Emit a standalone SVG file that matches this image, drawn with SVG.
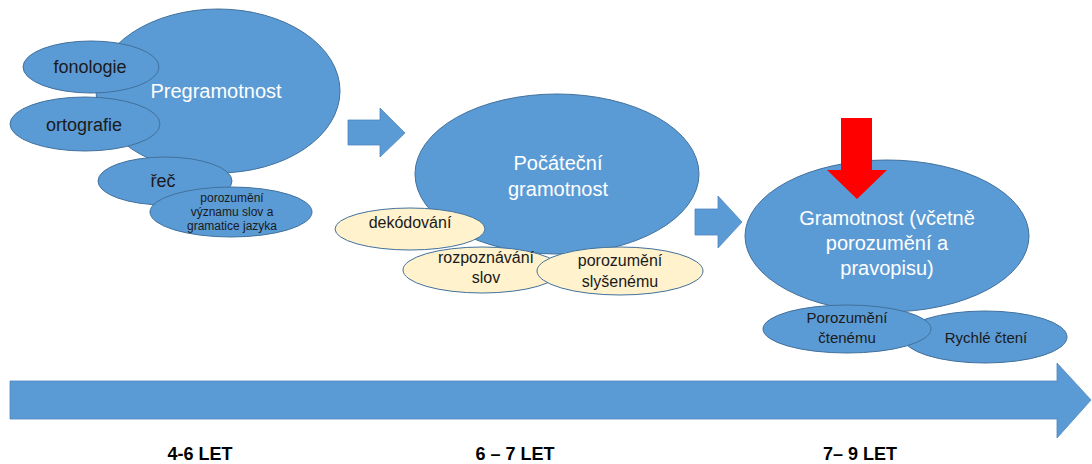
<svg xmlns="http://www.w3.org/2000/svg" width="1092" height="464" viewBox="0 0 1092 464">
<style>
.b{fill:#5b9bd5;stroke:#41719c;stroke-width:1}
.c{fill:#fff2cc;stroke:#41719c;stroke-width:1}
.arr{fill:#5b9bd5;stroke:#4f87c0;stroke-width:0.8}
.red{fill:#ff0000;stroke:none}
text{font-family:"Liberation Sans",Arial,sans-serif;text-anchor:middle}
.w{fill:#ffffff;font-size:20px}
.d{fill:#1a1a1a}
.f18{font-size:18px}
.f16{font-size:16px}
.f15{font-size:15px}
.f12{font-size:12px}
.lbl{fill:#000;font-size:18px;font-weight:bold}
</style>
<rect width="1092" height="464" fill="#ffffff"/>
<g id="connectors">
<polygon class="arr" points="10,381 1057,381 1057,363 1091,400 1057,438 1057,419 10,419"/>
<polygon class="arr" points="348,120 380,120 380,108 405,133 380,157 380,145 348,145"/>
<polygon class="arr" points="695,209 718,209 718,196 742,222 718,248 718,235 695,235"/>
</g>
<g id="pregramotnost">
<ellipse class="b" cx="218" cy="91" rx="122" ry="82"/>
<text class="w" x="216" y="98">Pregramotnost</text>
</g>
<g id="fonologie">
<ellipse class="b" cx="91" cy="67" rx="68" ry="26"/>
<text class="d f18" x="90" y="73">fonologie</text>
</g>
<g id="ortografie">
<ellipse class="b" cx="85" cy="124" rx="75" ry="27"/>
<text class="d f18" x="84" y="131">ortografie</text>
</g>
<g id="rec">
<ellipse class="b" cx="165" cy="181" rx="67" ry="24"/>
<text class="d f18" x="163" y="187">řeč</text>
</g>
<g id="porozumeni-vyznamu">
<ellipse class="b" cx="231" cy="212" rx="81" ry="25"/>
<text class="d f12" x="232" y="202">porozumění</text>
<text class="d f12" x="232" y="216">významu slov a</text>
<text class="d f12" x="232" y="230">gramatice jazyka</text>
</g>
<g id="pocatecni">
<ellipse class="b" cx="557" cy="174" rx="142" ry="80"/>
<text class="w" x="558" y="170">Počáteční</text>
<text class="w" x="558" y="196">gramotnost</text>
</g>
<g id="dekodovani">
<ellipse class="c" cx="410" cy="229" rx="75" ry="21"/>
<text class="d f16" x="410" y="228">dekódování</text>
</g>
<g id="rozpoznavani">
<ellipse class="c" cx="482" cy="270" rx="79" ry="23"/>
<text class="d f16" x="486" y="263">rozpoznávání</text>
<text class="d f16" x="486" y="283">slov</text>
</g>
<g id="porozumeni-slysenemu">
<ellipse class="c" cx="620" cy="271" rx="83" ry="24"/>
<text class="d f16" x="620" y="266">porozumění</text>
<text class="d f16" x="620" y="287">slyšenému</text>
</g>
<g id="gramotnost">
<ellipse class="b" cx="887" cy="236" rx="142" ry="76"/>
<text class="w" x="887" y="225">Gramotnost (včetně</text>
<text class="w" x="887" y="250">porozumění a</text>
<text class="w" x="887" y="275">pravopisu)</text>
</g>
<g id="red-arrow">
<polygon class="red" points="841,118 872,118 872,170 887,170 857,199 827,170 841,170"/>
</g>
<g id="rychle-cteni">
<ellipse class="b" cx="985" cy="337" rx="82" ry="26"/>
<text class="d f15" x="986" y="343">Rychlé čtení</text>
</g>
<g id="porozumeni-ctenemu">
<ellipse class="b" cx="847" cy="329" rx="84" ry="24"/>
<text class="d f15" x="847" y="323">Porozumění</text>
<text class="d f15" x="847" y="343">čtenému</text>
</g>
<g id="labels">
<text class="lbl" x="200" y="460">4-6 LET</text>
<text class="lbl" x="515" y="460">6 – 7 LET</text>
<text class="lbl" x="860" y="460">7– 9 LET</text>
</g>
</svg>
